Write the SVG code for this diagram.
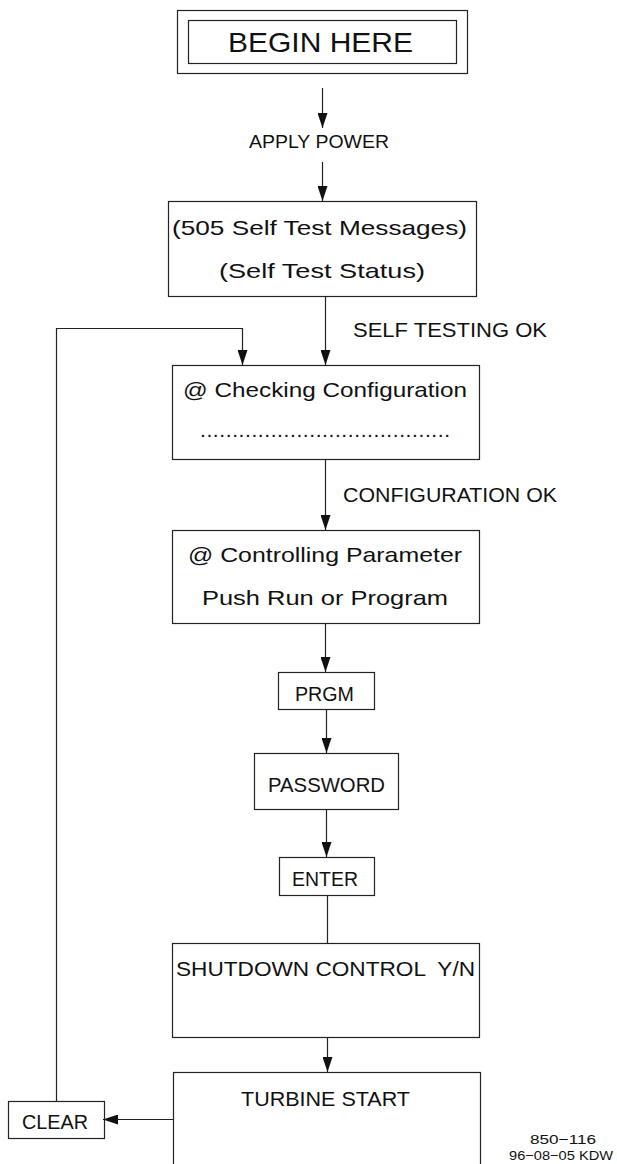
<svg xmlns="http://www.w3.org/2000/svg" width="617" height="1164" viewBox="0 0 617 1164">
<style>
.box{fill:none;stroke:#222;stroke-width:1.2}
.ln{fill:none;stroke:#222;stroke-width:1.2}
.t{font-family:"Liberation Sans",Arial,sans-serif;font-size:21px;fill:#111}
.big{font-size:28px}
.sm{font-size:18.5px}
.xs{font-size:13px}
</style>
<defs>
<marker id="ah" markerUnits="userSpaceOnUse" markerWidth="15" markerHeight="10" viewBox="0 0 15 10" refX="15" refY="5" orient="auto">
<path d="M0,0 L15,5 L0,10 Z" fill="#111"/>
</marker>
</defs>
<rect width="617" height="1164" fill="#fff"/>

<g id="connectors">
<line class="ln" x1="322.5" y1="88" x2="322.5" y2="128" marker-end="url(#ah)"/>
<line class="ln" x1="322.5" y1="162" x2="322.5" y2="201" marker-end="url(#ah)"/>
<line class="ln" x1="325.5" y1="296" x2="325.5" y2="365" marker-end="url(#ah)"/>
<polyline class="ln" points="56.5,1101 56.5,328.5 242.5,328.5 242.5,365" marker-end="url(#ah)"/>
<line class="ln" x1="325.5" y1="459" x2="325.5" y2="530" marker-end="url(#ah)"/>
<line class="ln" x1="325.5" y1="623" x2="325.5" y2="672" marker-end="url(#ah)"/>
<line class="ln" x1="326.5" y1="709" x2="326.5" y2="753" marker-end="url(#ah)"/>
<line class="ln" x1="326.5" y1="809" x2="326.5" y2="857" marker-end="url(#ah)"/>
<line class="ln" x1="327.5" y1="895" x2="327.5" y2="943"/>
<line class="ln" x1="327.5" y1="1037" x2="327.5" y2="1072" marker-end="url(#ah)"/>
<line class="ln" x1="173" y1="1119.5" x2="103" y2="1119.5" marker-end="url(#ah)"/>
<text class="t sm" x="249" y="148" textLength="140" lengthAdjust="spacingAndGlyphs">APPLY POWER</text>
<text class="t" x="353" y="337" textLength="194" lengthAdjust="spacingAndGlyphs">SELF TESTING OK</text>
<text class="t" x="343" y="502" textLength="214" lengthAdjust="spacingAndGlyphs">CONFIGURATION OK</text>
</g>

<g id="begin">
<rect class="box" x="177.5" y="10.5" width="290" height="63" stroke="#555"/>
<rect class="box" x="188.5" y="20.5" width="268" height="43"/>
<text class="t big" x="228" y="52" textLength="185" lengthAdjust="spacingAndGlyphs">BEGIN HERE</text>
</g>

<g id="selftest">
<rect class="box" x="168.5" y="201.5" width="308" height="95"/>
<text class="t" x="172" y="235" textLength="295" lengthAdjust="spacingAndGlyphs">(505 Self Test Messages)</text>
<text class="t" x="219" y="278" textLength="206" lengthAdjust="spacingAndGlyphs">(Self Test Status)</text>
</g>

<g id="checking">
<rect class="box" x="172.5" y="365.5" width="307" height="94"/>
<text class="t" x="183" y="397" textLength="284" lengthAdjust="spacingAndGlyphs">@ Checking Configuration</text>
<text class="t" x="200" y="437" textLength="250" lengthAdjust="spacing">.......................................</text>
</g>

<g id="controlling">
<rect class="box" x="172.5" y="530.5" width="307" height="93"/>
<text class="t" x="188" y="562" textLength="274" lengthAdjust="spacingAndGlyphs">@ Controlling Parameter</text>
<text class="t" x="202" y="605" textLength="246" lengthAdjust="spacingAndGlyphs">Push Run or Program</text>
</g>

<g id="prgm">
<rect class="box" x="278.5" y="672.5" width="96" height="37"/>
<text class="t" x="295" y="701" textLength="59" lengthAdjust="spacingAndGlyphs">PRGM</text>
</g>

<g id="password">
<rect class="box" x="254.5" y="753.5" width="144" height="56"/>
<text class="t" x="268" y="792" textLength="117" lengthAdjust="spacingAndGlyphs">PASSWORD</text>
</g>

<g id="enter">
<rect class="box" x="279.5" y="857.5" width="95" height="38"/>
<text class="t" x="292" y="886" textLength="66" lengthAdjust="spacingAndGlyphs">ENTER</text>
</g>

<g id="shutdown">
<rect class="box" x="172.5" y="943.5" width="307" height="94"/>
<text class="t" x="176" y="976" textLength="299" lengthAdjust="spacingAndGlyphs" xml:space="preserve">SHUTDOWN CONTROL  Y/N</text>
</g>

<g id="turbine">
<rect class="box" x="173.5" y="1072.5" width="307" height="120"/>
<text class="t" x="241" y="1106" textLength="169" lengthAdjust="spacingAndGlyphs">TURBINE START</text>
</g>

<g id="clear">
<rect class="box" x="8.5" y="1101.5" width="96" height="37"/>
<text class="t" x="22" y="1129" textLength="66" lengthAdjust="spacingAndGlyphs">CLEAR</text>
</g>

<g id="drawing-ref">
<text class="t xs" x="530" y="1144" textLength="66" lengthAdjust="spacingAndGlyphs">850−116</text>
<text class="t xs" x="509" y="1160" textLength="104" lengthAdjust="spacingAndGlyphs">96−08−05 KDW</text>
</g>
</svg>
